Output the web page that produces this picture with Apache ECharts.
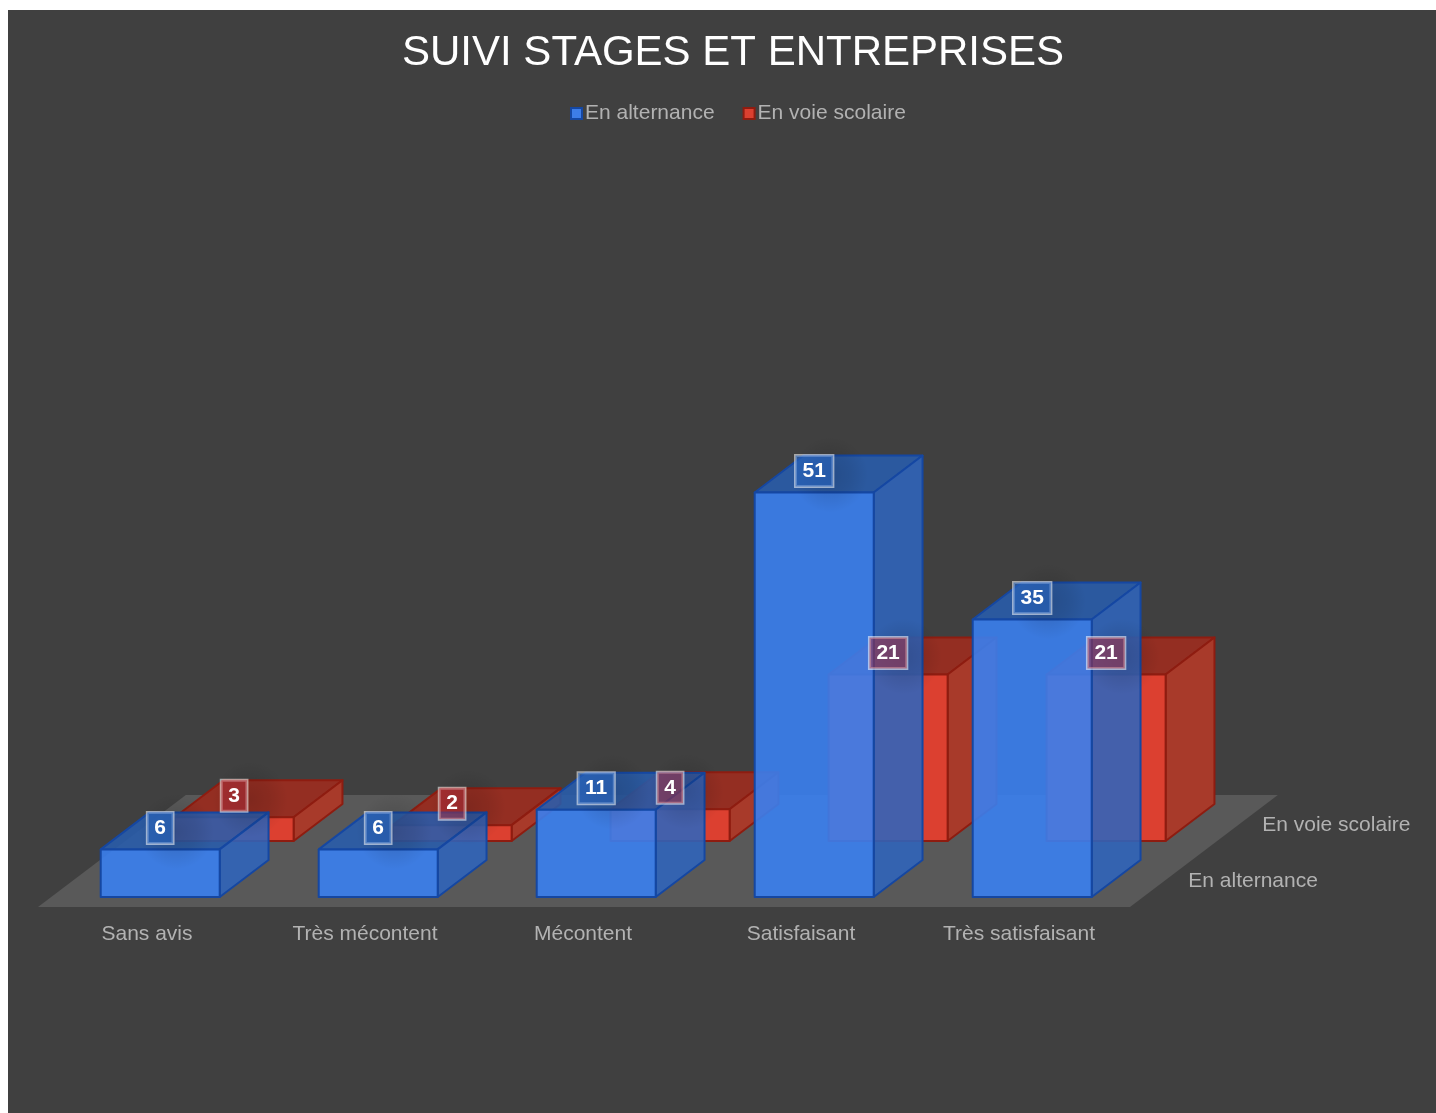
<!DOCTYPE html>
<html>
<head>
<meta charset="utf-8">
<style>html,body{margin:0;padding:0;background:#fff}#chart{width:1436px;height:1113px}</style>
<script src="https://cdn.jsdelivr.net/npm/echarts@6/dist/echarts.min.js"></script>
</head>
<body>
<div id="chart"></div>
<script>
const titleText = 'SUIVI STAGES ET ENTREPRISES';
const categories = ['Sans avis', 'Très mécontent', 'Mécontent', 'Satisfaisant', 'Très satisfaisant'];
const enAlternance = [6, 6, 11, 51, 35];
const enVoieScolaire = [3, 2, 4, 21, 21];
const seriesNames = ['En alternance', 'En voie scolaire'];

const FONT = '"Liberation Sans", Arial, sans-serif';
const SLOPE = 1.32;          // horizontal shift per pixel of depth
const BOX_W = 119;           // front width of a box
const BOX_DEPTH = 37;        // vertical extent of a box's depth
const ROW_LIFT = [10, 66];   // lift of each row's base above the floor's front edge
const FLOOR_DEPTH = 112;

const PALETTE = [
  { front: 'rgba(58,128,240,0.9)', side: 'rgba(47,100,188,0.88)', top: 'rgba(40,92,172,0.88)', stroke: '#1547a2',
    label: 'rgba(40,100,190,0.6)', solid: '#3d7de8' },
  { front: '#dc4030', side: '#a83a2a', top: '#942e22', stroke: '#8e1c10',
    label: 'rgba(175,45,60,0.5)', solid: '#dc4030' }
];

function boxRenderer(row) {
  const c = PALETTE[row];
  return function (params, api) {
    const lift = ROW_LIFT[row];
    const base = api.coord([api.value(0), 0]);
    const head = api.coord([api.value(0), api.value(1)]);
    const cx = base[0] + lift * SLOPE;
    const l = cx - BOX_W / 2, r = cx + BOX_W / 2;
    const b = base[1] - lift, t = head[1] - lift;
    const dx = BOX_DEPTH * SLOPE, dy = BOX_DEPTH;
    const z = row === 0 ? 5 : 1;
    const face = (pts, fill) => ({
      type: 'polygon', z2: z, shape: { points: pts },
      style: { fill: fill, stroke: c.stroke, lineWidth: 2, lineJoin: 'round' }
    });
    return {
      type: 'group',
      children: [
        face([[l, t], [r, t], [r + dx, t - dy], [l + dx, t - dy]], c.top),
        face([[r, t], [r + dx, t - dy], [r + dx, b - dy], [r, b]], c.side),
        face([[l, t], [r, t], [r, b], [l, b]], c.front),
        {
          type: 'circle', z2: 15, silent: true,
          shape: { cx: cx + 16, cy: t - 18, r: 38 },
          style: { fill: { type: 'radial', x: 0.5, y: 0.5, r: 0.5, colorStops: [
            { offset: 0, color: 'rgba(0,0,0,0.14)' },
            { offset: 0.55, color: 'rgba(0,0,0,0.08)' },
            { offset: 1, color: 'rgba(0,0,0,0)' }
          ] } }
        },
        {
          type: 'text', z2: 20, x: cx, y: t - 21.5,
          style: {
            text: String(api.value(1)), fill: '#fff',
            font: 'bold 21px ' + FONT, align: 'center', verticalAlign: 'middle',
            backgroundColor: c.label, borderColor: 'rgba(255,255,255,0.55)', borderWidth: 1.5,
            padding: [6, 7, 4, 7]
          }
        }
      ]
    };
  };
}

function floorRenderer(params) {
  const g = params.coordSys;
  const x0 = g.x, x1 = g.x + g.width + 2, y0 = g.y + g.height;
  const fdx = FLOOR_DEPTH * SLOPE;
  const rowLabel = (name, d) => ({
    type: 'text', z2: 1, x: x1 + d * SLOPE + 24, y: y0 - d,
    style: { text: name, fill: '#b2b2b2', font: '21px ' + FONT, align: 'left', verticalAlign: 'middle' }
  });
  return {
    type: 'group',
    children: [
      { type: 'polygon', z2: 0, shape: { points: [[x0, y0], [x1, y0], [x1 + fdx, y0 - FLOOR_DEPTH], [x0 + fdx, y0 - FLOOR_DEPTH]] },
        style: { fill: '#595959' } },
      rowLabel(seriesNames[0], 26),
      rowLabel(seriesNames[1], 82)
    ]
  };
}

const chart = echarts.init(document.getElementById('chart'), null, { renderer: 'canvas' });
chart.setOption({
  animation: false,
  backgroundColor: '#ffffff',
  graphic: [{
    type: 'rect', z: -10, silent: true,
    shape: { x: 8, y: 10, width: 1428, height: 1103 },
    style: { fill: '#404040' }
  }],
  title: {
    text: titleText, left: 402, top: 32, padding: 0,
    textStyle: { color: '#ffffff', fontFamily: FONT, fontWeight: 'normal', fontSize: 42 }
  },
  legend: {
    data: [
      { name: seriesNames[0], itemStyle: { color: PALETTE[0].solid, borderColor: PALETTE[0].stroke, borderWidth: 2 } },
      { name: seriesNames[1], itemStyle: { color: PALETTE[1].solid, borderColor: PALETTE[1].stroke, borderWidth: 2 } }
    ],
    left: 565, top: 98, itemWidth: 11, itemHeight: 11, itemGap: 28,
    textStyle: { color: '#b2b2b2', fontFamily: FONT, fontSize: 21, padding: [0, 0, 0, -2] },
    icon: 'rect', selectedMode: false
  },
  grid: { left: 38, width: 1090, top: 114, height: 793, containLabel: false },
  xAxis: {
    type: 'category', data: categories,
    axisLine: { show: false }, axisTick: { show: false },
    axisLabel: { color: '#b2b2b2', fontFamily: FONT, fontSize: 21, margin: 17, interval: 0 }
  },
  yAxis: {
    type: 'value', min: 0, max: 100, interval: 20, show: false, splitLine: { show: false }
  },
  series: [
    { type: 'custom', silent: true, z: 2, clip: false, data: [[0, 0]], renderItem: floorRenderer, encode: { x: 0, y: 1 } },
    { type: 'custom', name: seriesNames[1], silent: true, z: 2, clip: false,
      data: enVoieScolaire.map((v, i) => [i, v]), renderItem: boxRenderer(1), encode: { x: 0, y: 1 },
      itemStyle: { color: PALETTE[1].solid, borderColor: PALETTE[1].stroke, borderWidth: 2 } },
    { type: 'custom', name: seriesNames[0], silent: true, z: 2, clip: false,
      data: enAlternance.map((v, i) => [i, v]), renderItem: boxRenderer(0), encode: { x: 0, y: 1 },
      itemStyle: { color: PALETTE[0].solid, borderColor: PALETTE[0].stroke, borderWidth: 2 } }
  ]
});
</script>
</body>
</html>
